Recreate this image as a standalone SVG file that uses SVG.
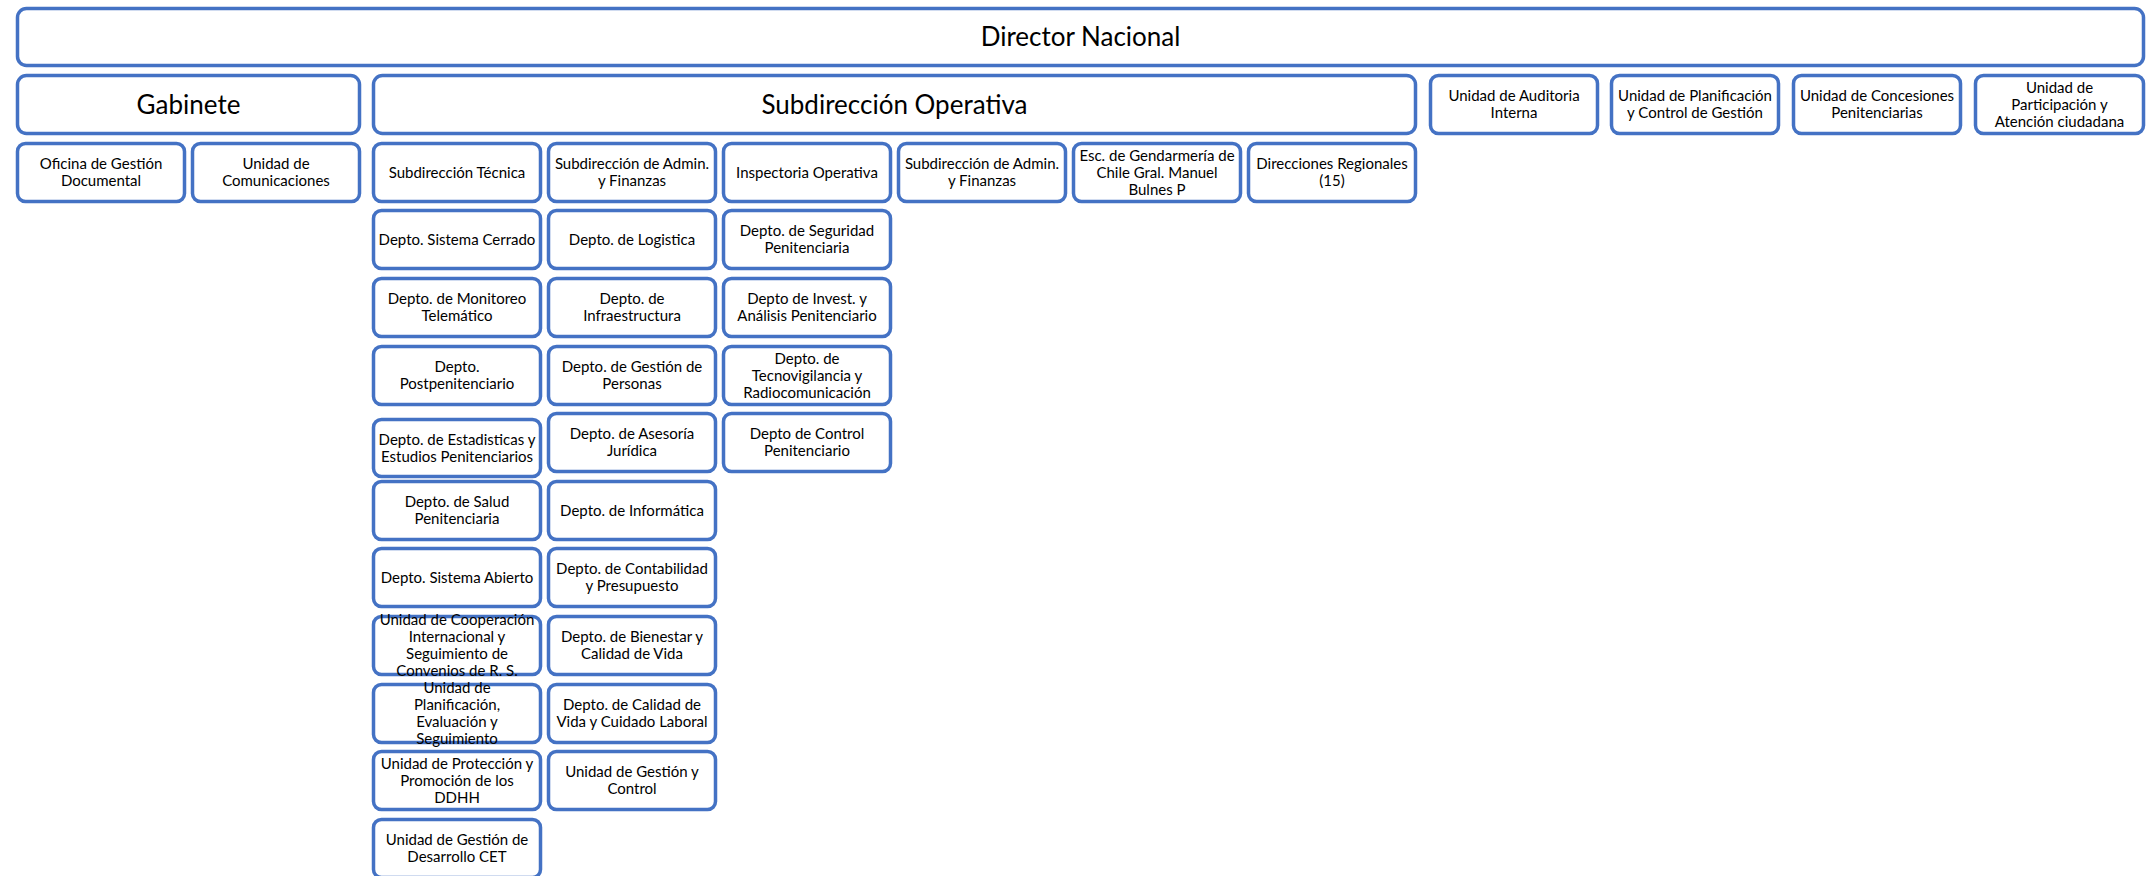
<svg xmlns="http://www.w3.org/2000/svg" width="2154" height="876" viewBox="0 0 2154 876">
<style>
.b{fill:#ffffff;stroke:#4472C4;stroke-width:3.5}
.t{font-family:Lato,"Liberation Sans",sans-serif;font-size:15px;text-anchor:middle;fill:#000}
.T{font-family:Lato,"Liberation Sans",sans-serif;font-size:26px;text-anchor:middle;fill:#000}
</style>
<rect width="2154" height="876" fill="#ffffff"/>
<g id="connectors"/>
<g id="director"><rect class="b" x="17.5" y="8.5" width="2126" height="57" rx="9"/><text class="T" x="1080.5" y="46">Director Nacional</text></g>
<g id="gabinete"><rect class="b" x="17.5" y="75.5" width="342" height="58" rx="9"/><text class="T" x="188.5" y="113.5">Gabinete</text></g>
<g id="subdir-operativa"><rect class="b" x="373.5" y="75.5" width="1042" height="58" rx="9"/><text class="T" x="894.5" y="113.5">Subdirección Operativa</text></g>
<g id="auditoria"><rect class="b" x="1430.5" y="75.5" width="167" height="58" rx="8"/><text class="t" y="101"><tspan x="1514">Unidad de Auditoria</tspan><tspan x="1514" dy="17">Interna</tspan></text></g>
<g id="planificacion-gestion"><rect class="b" x="1611.5" y="75.5" width="167" height="58" rx="8"/><text class="t" y="101"><tspan x="1695">Unidad de Planificación</tspan><tspan x="1695" dy="17">y Control de Gestión</tspan></text></g>
<g id="concesiones"><rect class="b" x="1793.5" y="75.5" width="167" height="58" rx="8"/><text class="t" y="101"><tspan x="1877">Unidad de Concesiones</tspan><tspan x="1877" dy="17">Penitenciarias</tspan></text></g>
<g id="participacion"><rect class="b" x="1975.5" y="75.5" width="168" height="58" rx="8"/><text class="t" y="92.5"><tspan x="2059.5">Unidad de</tspan><tspan x="2059.5" dy="17">Participación y</tspan><tspan x="2059.5" dy="17">Atención ciudadana</tspan></text></g>
<g id="oficina-gestion"><rect class="b" x="17.5" y="143.5" width="167" height="58" rx="8"/><text class="t" y="169"><tspan x="101">Oficina de Gestión</tspan><tspan x="101" dy="17">Documental</tspan></text></g>
<g id="comunicaciones"><rect class="b" x="192.5" y="143.5" width="167" height="58" rx="8"/><text class="t" y="169"><tspan x="276">Unidad de</tspan><tspan x="276" dy="17">Comunicaciones</tspan></text></g>
<g id="subdir-tecnica"><rect class="b" x="373.5" y="143.5" width="167" height="58" rx="8"/><text class="t" x="457" y="177.5">Subdirección Técnica</text></g>
<g id="subdir-admin-1"><rect class="b" x="548.5" y="143.5" width="167" height="58" rx="8"/><text class="t" y="169"><tspan x="632">Subdirección de Admin.</tspan><tspan x="632" dy="17">y Finanzas</tspan></text></g>
<g id="inspectoria"><rect class="b" x="723.5" y="143.5" width="167" height="58" rx="8"/><text class="t" x="807" y="177.5">Inspectoria Operativa</text></g>
<g id="subdir-admin-2"><rect class="b" x="898.5" y="143.5" width="167" height="58" rx="8"/><text class="t" y="169"><tspan x="982">Subdirección de Admin.</tspan><tspan x="982" dy="17">y Finanzas</tspan></text></g>
<g id="escuela"><rect class="b" x="1073.5" y="143.5" width="167" height="58" rx="8"/><text class="t" y="160.5"><tspan x="1157">Esc. de Gendarmería de</tspan><tspan x="1157" dy="17">Chile Gral. Manuel</tspan><tspan x="1157" dy="17">Bulnes P</tspan></text></g>
<g id="direcciones-regionales"><rect class="b" x="1248.5" y="143.5" width="167" height="58" rx="8"/><text class="t" y="169"><tspan x="1332">Direcciones Regionales</tspan><tspan x="1332" dy="17">(15)</tspan></text></g>
<g id="sistema-cerrado"><rect class="b" x="373.5" y="210.5" width="167" height="58" rx="8"/><text class="t" x="457" y="244.5">Depto. Sistema Cerrado</text></g>
<g id="monitoreo"><rect class="b" x="373.5" y="278.5" width="167" height="58" rx="8"/><text class="t" y="304"><tspan x="457">Depto. de Monitoreo</tspan><tspan x="457" dy="17">Telemático</tspan></text></g>
<g id="postpenitenciario"><rect class="b" x="373.5" y="346.5" width="167" height="58" rx="8"/><text class="t" y="372"><tspan x="457">Depto.</tspan><tspan x="457" dy="17">Postpenitenciario</tspan></text></g>
<g id="estadisticas"><rect class="b" x="373.5" y="419.5" width="167" height="57" rx="8"/><text class="t" y="444.5"><tspan x="457">Depto. de Estadisticas y</tspan><tspan x="457" dy="17">Estudios Penitenciarios</tspan></text></g>
<g id="salud"><rect class="b" x="373.5" y="481.5" width="167" height="58" rx="8"/><text class="t" y="507"><tspan x="457">Depto. de Salud</tspan><tspan x="457" dy="17">Penitenciaria</tspan></text></g>
<g id="sistema-abierto"><rect class="b" x="373.5" y="548.5" width="167" height="58" rx="8"/><text class="t" x="457" y="582.5">Depto. Sistema Abierto</text></g>
<g id="cooperacion"><rect class="b" x="373.5" y="616.5" width="167" height="58" rx="8"/><text class="t" y="625"><tspan x="457">Unidad de Cooperación</tspan><tspan x="457" dy="17">Internacional y</tspan><tspan x="457" dy="17">Seguimiento de</tspan><tspan x="457" dy="17">Convenios de R. S.</tspan></text></g>
<g id="planificacion-evaluacion"><rect class="b" x="373.5" y="684.5" width="167" height="58" rx="8"/><text class="t" y="693"><tspan x="457">Unidad de</tspan><tspan x="457" dy="17">Planificación,</tspan><tspan x="457" dy="17">Evaluación y</tspan><tspan x="457" dy="17">Seguimiento</tspan></text></g>
<g id="proteccion-ddhh"><rect class="b" x="373.5" y="751.5" width="167" height="58" rx="8"/><text class="t" y="768.5"><tspan x="457">Unidad de Protección y</tspan><tspan x="457" dy="17">Promoción de los</tspan><tspan x="457" dy="17">DDHH</tspan></text></g>
<g id="desarrollo-cet"><rect class="b" x="373.5" y="819.5" width="167" height="58" rx="8"/><text class="t" y="845"><tspan x="457">Unidad de Gestión de</tspan><tspan x="457" dy="17">Desarrollo CET</tspan></text></g>
<g id="logistica"><rect class="b" x="548.5" y="210.5" width="167" height="58" rx="8"/><text class="t" x="632" y="244.5">Depto. de Logistica</text></g>
<g id="infraestructura"><rect class="b" x="548.5" y="278.5" width="167" height="58" rx="8"/><text class="t" y="304"><tspan x="632">Depto. de</tspan><tspan x="632" dy="17">Infraestructura</tspan></text></g>
<g id="gestion-personas"><rect class="b" x="548.5" y="346.5" width="167" height="58" rx="8"/><text class="t" y="372"><tspan x="632">Depto. de Gestión de</tspan><tspan x="632" dy="17">Personas</tspan></text></g>
<g id="asesoria-juridica"><rect class="b" x="548.5" y="413.5" width="167" height="58" rx="8"/><text class="t" y="439"><tspan x="632">Depto. de Asesoría</tspan><tspan x="632" dy="17">Jurídica</tspan></text></g>
<g id="informatica"><rect class="b" x="548.5" y="481.5" width="167" height="58" rx="8"/><text class="t" x="632" y="515.5">Depto. de Informática</text></g>
<g id="contabilidad"><rect class="b" x="548.5" y="548.5" width="167" height="58" rx="8"/><text class="t" y="574"><tspan x="632">Depto. de Contabilidad</tspan><tspan x="632" dy="17">y Presupuesto</tspan></text></g>
<g id="bienestar"><rect class="b" x="548.5" y="616.5" width="167" height="58" rx="8"/><text class="t" y="642"><tspan x="632">Depto. de Bienestar y</tspan><tspan x="632" dy="17">Calidad de Vida</tspan></text></g>
<g id="calidad-vida"><rect class="b" x="548.5" y="684.5" width="167" height="58" rx="8"/><text class="t" y="710"><tspan x="632">Depto. de Calidad de</tspan><tspan x="632" dy="17">Vida y Cuidado Laboral</tspan></text></g>
<g id="gestion-control"><rect class="b" x="548.5" y="751.5" width="167" height="58" rx="8"/><text class="t" y="777"><tspan x="632">Unidad de Gestión y</tspan><tspan x="632" dy="17">Control</tspan></text></g>
<g id="seguridad"><rect class="b" x="723.5" y="210.5" width="167" height="58" rx="8"/><text class="t" y="236"><tspan x="807">Depto. de Seguridad</tspan><tspan x="807" dy="17">Penitenciaria</tspan></text></g>
<g id="investigacion"><rect class="b" x="723.5" y="278.5" width="167" height="58" rx="8"/><text class="t" y="304"><tspan x="807">Depto de Invest. y</tspan><tspan x="807" dy="17">Análisis Penitenciario</tspan></text></g>
<g id="tecnovigilancia"><rect class="b" x="723.5" y="346.5" width="167" height="58" rx="8"/><text class="t" y="363.5"><tspan x="807">Depto. de</tspan><tspan x="807" dy="17">Tecnovigilancia y</tspan><tspan x="807" dy="17">Radiocomunicación</tspan></text></g>
<g id="control-penitenciario"><rect class="b" x="723.5" y="413.5" width="167" height="58" rx="8"/><text class="t" y="439"><tspan x="807">Depto de Control</tspan><tspan x="807" dy="17">Penitenciario</tspan></text></g>
</svg>
